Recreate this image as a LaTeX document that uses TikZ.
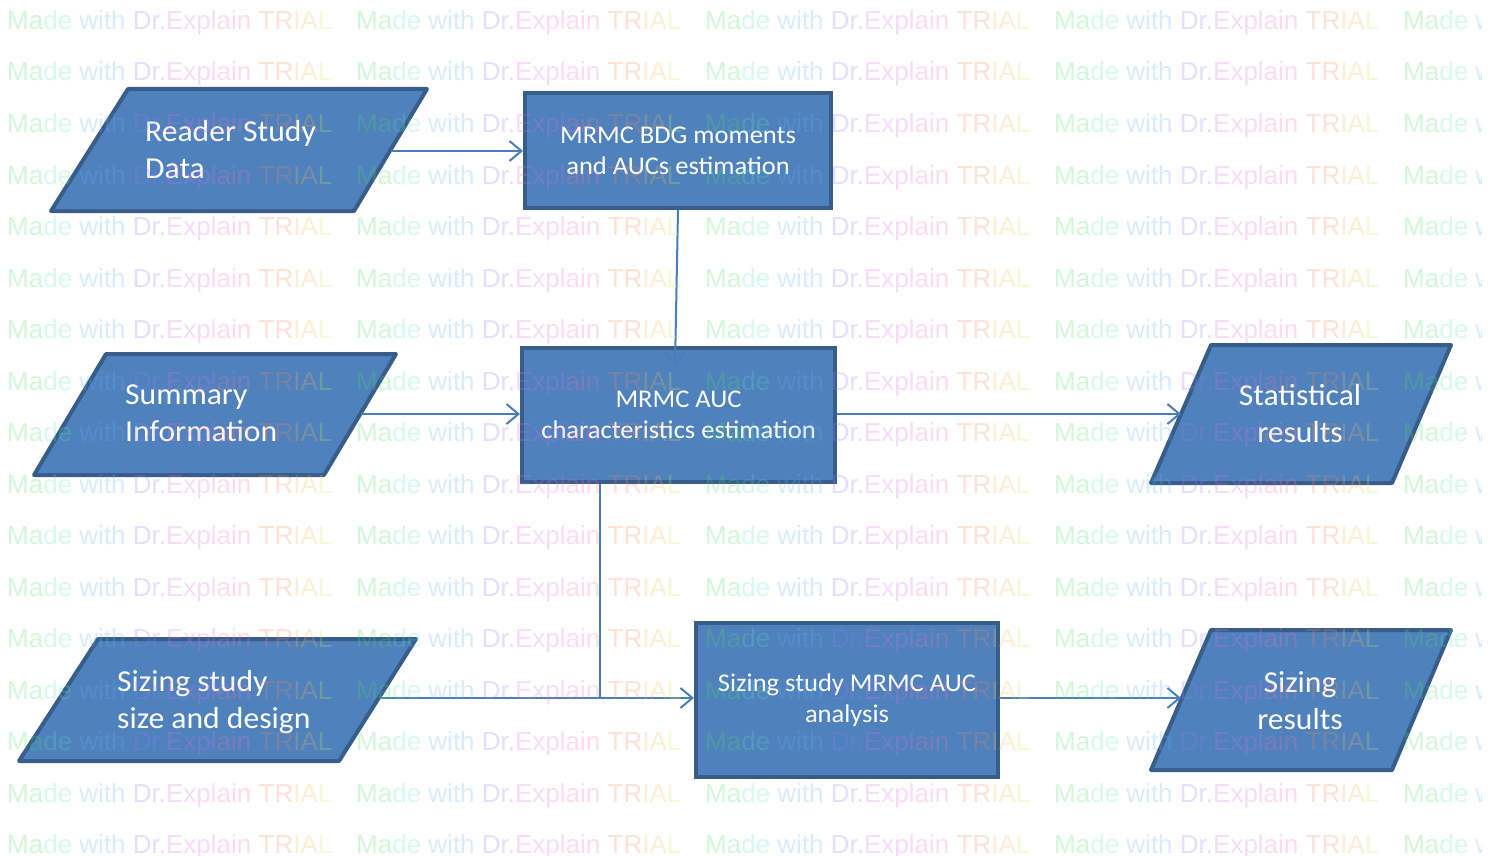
\documentclass[tikz,border=0pt]{standalone}
\usepackage{fontspec}
\setmainfont{Carlito}[FakeStretch=1.04]
\newfontfamily\wmfont{Liberation Sans}
\usetikzlibrary{arrows.meta}
\definecolor{boxfill}{HTML}{4F81BD}
\definecolor{boxline}{HTML}{385D8A}
\definecolor{connc}{HTML}{4A7EBB}
\definecolor{wma}{HTML}{48E162}
\definecolor{wmb}{HTML}{58E8BC}
\definecolor{wmc}{HTML}{62B2FF}
\definecolor{wmd}{HTML}{917DFF}
\definecolor{wme}{HTML}{DE70EE}
\definecolor{wmf}{HTML}{FF70B5}
\definecolor{wmg}{HTML}{FF8458}
\definecolor{wmh}{HTML}{FFBC48}
\definecolor{wmi}{HTML}{CDEE58}
\newcommand\wmtext{\textcolor{wma}{Ma}\textcolor{wmb}{de} \textcolor{wmc}{with} \textcolor{wmd}{Dr.}\textcolor{wme}{Expl}\textcolor{wmf}{ain} \textcolor{wmg}{TR}\textcolor{wmh}{IA}\textcolor{wmi}{L}}
\begin{document}
\begin{tikzpicture}[x=1pt,y=-1pt,
  shapebox/.style={fill=boxfill,draw=boxline,line width=4pt,line join=round},
  rectbox/.style={fill=boxfill,draw=boxline,line width=4pt,text=white,font=\fontsize{25.5}{31}\selectfont,align=center,inner sep=0pt},
  psty/.style={text=white,font=\fontsize{30.4}{37}\selectfont,inner sep=0pt},
  conn/.style={draw=connc,line width=2pt,-{Straight Barb[length=12pt,width=20pt]}},
  connline/.style={draw=connc,line width=2pt},
  wm/.style={font=\wmfont\fontsize{26}{30}\selectfont,inner sep=0pt,text opacity=0.24}]
\useasboundingbox (0,0) rectangle (1493,856);
\fill[white] (0,0) rectangle (1493,856);

% parallelograms
\draw[shapebox] (128,89) -- (427,89) -- (354,211) -- (51,211) -- cycle;
\node[psty,align=left,anchor=west] (rsd) at (145,150) {Reader Study\\Data};
\draw[shapebox] (106,354) -- (396,354) -- (324,475) -- (34,475) -- cycle;
\node[psty,align=left,anchor=west] (si) at (125,413.5) {Summary\\Information};
\draw[shapebox] (98,639) -- (416,639) -- (339,761) -- (19,761) -- cycle;
\node[psty,align=left,anchor=west] (ssd) at (117,702) {Sizing study\\size and design};
\draw[shapebox] (1211,345) -- (1451,345) -- (1392,483) -- (1151,483) -- cycle;
\node[psty,align=center] (sr) at (1300,413.5) {Statistical\\results};
\draw[shapebox] (1211,630) -- (1451,630) -- (1392,770) -- (1151,770) -- cycle;
\node[psty,align=center] (szr) at (1300,700.5) {Sizing\\results};

% rectangles
\node[rectbox,minimum width=306pt,minimum height=115pt] (bdg) at (678,150.5) {MRMC BDG moments\\and AUCs estimation};
\node[rectbox,minimum width=313pt,minimum height=134pt] (auc) at (678.5,415) {MRMC AUC\\characteristics estimation};
\node[rectbox,minimum width=302pt,minimum height=154pt] (ssa) at (847,700) {Sizing study MRMC AUC\\analysis};

% connector points
\coordinate (rsd-out) at (391,151);
\coordinate (si-out) at (361,414);
\coordinate (sr-in) at (1181,414);
\coordinate (auc-in) at (675,366);
\coordinate (ssd-out) at (380,698);
\coordinate (jn) at (600,698);
\coordinate (szr-in) at (1181,698);

\draw[conn] (rsd-out) -- (rsd-out -| bdg.west);
\draw[conn] (bdg.south) -- (auc-in);
\draw[conn] (si-out) -- (si-out -| auc.west);
\draw[conn] (auc.east |- si-out) -- (sr-in);
\draw[connline] (jn |- auc.south) -- (jn);
\draw[conn] (ssd-out) -- (ssd-out -| ssa.west);
\draw[conn] (ssa.east |- jn) -- (szr-in);

% watermark
\begin{scope}
\clip (0,0) rectangle (1481,856);
\foreach \r in {0,...,16}{\foreach \c in {0,...,4}{
  \node[wm,anchor=base west] (wm-\r-\c) at ({7+349*\c},{29.5+51.5*\r}) {\wmtext};}}
\end{scope}
\end{tikzpicture}
\end{document}
